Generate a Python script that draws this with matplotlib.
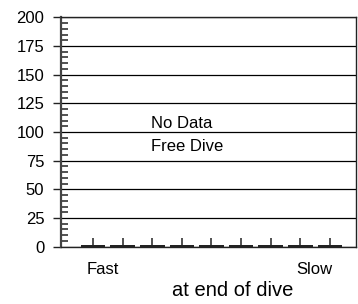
import matplotlib
matplotlib.use("Agg")
import matplotlib.pyplot as plt
from matplotlib.ticker import MultipleLocator

plt.rcParams['font.family'] = ['Liberation Sans', 'DejaVu Sans']

categories = list(range(9))
values = [1.8] * 9
err_upper = [5.5] * 9
yticks = [0, 25, 50, 75, 100, 125, 150, 175, 200]

fig = plt.figure(figsize=(3.58, 3.04), dpi=100)
ax = fig.add_axes([61/358, 1 - 246.7/304, (356 - 61)/358, (246.7 - 17.3)/304])

ax.bar(categories, values, width=0.83, color='#222222', linewidth=0, zorder=3)
ax.errorbar(categories, values, yerr=[[0]*9, err_upper], fmt='none', ecolor='#222222',
            elinewidth=1.1, capsize=0, zorder=4)

ax.set_xlim(-1.08, 8.88)
ax.set_ylim(0, 200)
ax.set_yticks(yticks)
ax.yaxis.set_minor_locator(MultipleLocator(5))
ax.set_xticks([])
ax.tick_params(axis='y', which='major', direction='out', length=6, width=1, color='#222222',
               labelsize=12, pad=6)
ax.tick_params(axis='y', which='minor', direction='in', length=5, width=1.2, color='#333333')
ax.yaxis.grid(True, which='major', color='black', linewidth=0.9)
ax.set_axisbelow(True)
for s in ax.spines.values():
    s.set_color('#222222')
    s.set_linewidth(1.0)
ax.spines['left'].set_linewidth(1.6)
ax.spines['left'].set_color('#444444')

ax.text(1.96, 107.5, 'No Data', fontsize=12, ha='left', va='center')
ax.text(1.96, 87.5, 'Free Dive', fontsize=12, ha='left', va='center')

fig.text(103/358, 1 - 270/304, 'Fast', fontsize=12, ha='center', va='center')
fig.text(314/358, 1 - 270/304, 'Slow', fontsize=12, ha='center', va='center')
fig.text(233/358, 1 - 291/304, 'at end of dive', fontsize=14.5, ha='center', va='center')

fig.savefig('out.png', dpi=100)
